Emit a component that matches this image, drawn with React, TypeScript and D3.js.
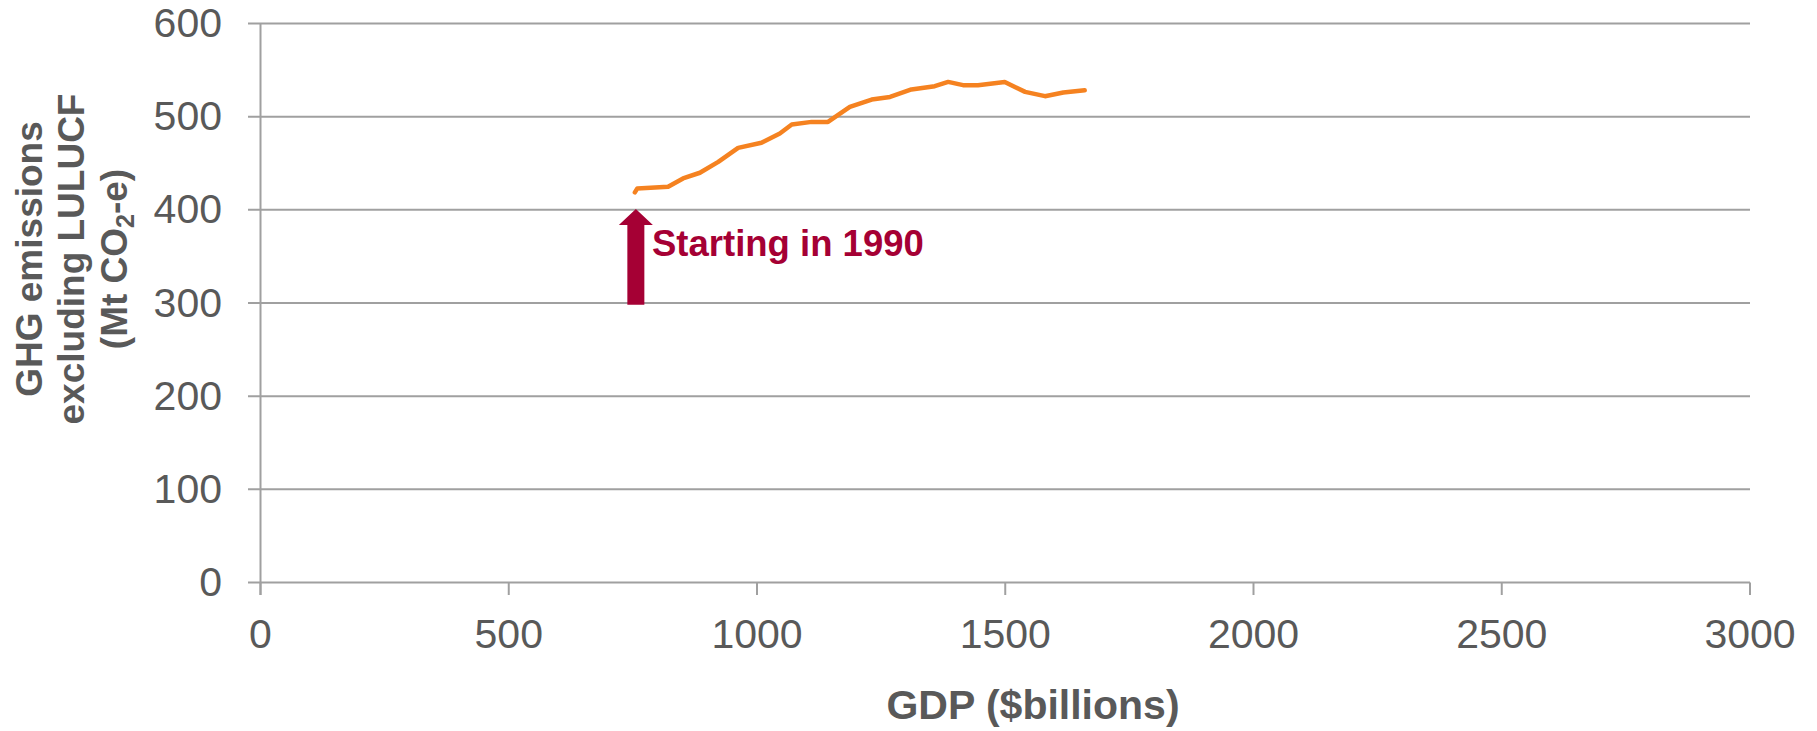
import React from "react";
import * as d3 from "d3";

const gdp = [754, 759, 821, 851, 885, 922, 962, 1009, 1046, 1070, 1110, 1143, 1187, 1231, 1268, 1311, 1358, 1385, 1415, 1445, 1499, 1540, 1580, 1617, 1660];
const emissions = [418.7, 423, 424.7, 433.7, 439.8, 451.5, 466.5, 472, 482, 491.6, 494.4, 494.4, 510.5, 518.4, 521.2, 529.2, 532.7, 537.3, 533.8, 533.8, 537.3, 526.6, 522, 526, 528.4];
const xTicks = [0, 500, 1000, 1500, 2000, 2500, 3000];
const yTicks = [0, 100, 200, 300, 400, 500, 600];
const arrowX = 756;
const arrowFrom = 298;
const arrowTo = 401;
const annotation = "Starting in 1990";

const W = 1817, H = 731;
const left = 260.5, right = 1750, top = 23.5, bottom = 582.5;
const grey = "#595959";
const gridCol = "#A0A0A0";
const font = "'Liberation Sans', Arial, sans-serif";

export default function App() {
  const x = d3.scaleLinear().domain([0, 3000]).range([left, right]);
  const y = d3.scaleLinear().domain([0, 600]).range([bottom, top]);
  const pts = gdp.map((g, i) => [g, emissions[i]] as [number, number]);
  const line = d3.line<[number, number]>().x(d => x(d[0])).y(d => y(d[1]));

  const ax = x(arrowX);
  const tipY = y(arrowTo);
  const baseY = y(arrowFrom);
  const headH = 16, headW = 17, shaftW = 8.5;
  const arrowPath = `M${ax},${tipY} L${ax + headW},${tipY + headH} L${ax + shaftW},${tipY + headH} L${ax + shaftW},${baseY} L${ax - shaftW},${baseY} L${ax - shaftW},${tipY + headH} L${ax - headW},${tipY + headH} Z`;

  return (
    <svg width={W} height={H} style={{ position: "absolute", left: 0, top: 0, background: "#fff" }} fontFamily={font}>
      {yTicks.map(t => (
        <g key={"y" + t}>
          <line x1={248} x2={right} y1={y(t)} y2={y(t)} stroke={gridCol} strokeWidth={2} />
          <text x={222} y={y(t) + 13.5} textAnchor="end" fontSize={41} fill={grey}>{t}</text>
        </g>
      ))}
      <line x1={left} x2={left} y1={top} y2={bottom + 12.5} stroke={gridCol} strokeWidth={2} />
      {xTicks.map(t => (
        <g key={"x" + t}>
          <line x1={x(t)} x2={x(t)} y1={bottom} y2={bottom + 12.5} stroke={gridCol} strokeWidth={2} />
          <text x={x(t)} y={648} textAnchor="middle" fontSize={41} fill={grey}>{t}</text>
        </g>
      ))}
      <path d={line(pts) || ""} fill="none" stroke="#F58220" strokeWidth={4.5} strokeLinejoin="round" strokeLinecap="round" />
      <path d={arrowPath} fill="#A50034" />
      <text x={652} y={256} fontSize={36.5} fontWeight="bold" fill="#A50034">{annotation}</text>
      <text x={1033} y={719} textAnchor="middle" fontSize={41} fontWeight="bold" fill={grey}>GDP ($billions)</text>
      <g transform="translate(0,259) rotate(-90)" fontWeight="bold" fill={grey} fontSize={37} textAnchor="middle">
        <text x={0} y={41.7}>GHG emissions</text>
        <text x={0} y={83.5}>excluding LULUCF</text>
        <text x={0} y={126.5}>(Mt CO<tspan fontSize={25} dy={7}>2</tspan><tspan dy={-7}>-e)</tspan></text>
      </g>
    </svg>
  );
}
